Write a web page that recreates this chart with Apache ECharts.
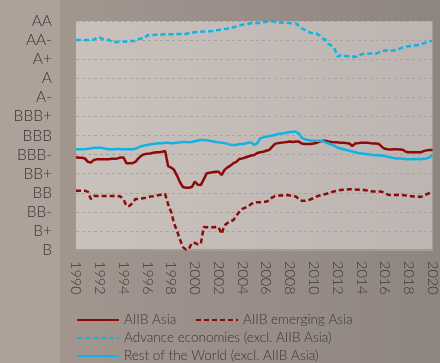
<!DOCTYPE html>
<html>
<head>
<meta charset="utf-8">
<script src="https://cdn.jsdelivr.net/npm/echarts@6/dist/echarts.min.js"></script>
<style>
  html, body { margin: 0; padding: 0; }
  #chart { width: 440px; height: 363px; }
</style>
</head>
<body>
<div id="chart"></div>
<script>
// Sovereign credit rating scale, lowest (index 0) to highest
const ratings = ['B', 'B+', 'BB-', 'BB', 'BB+', 'BBB-', 'BBB', 'BBB+', 'A-', 'A', 'A+', 'AA-', 'AA'];

// Quarterly observations, 1990 Q1 through 2020 Q1
const startYear = 1990;
const stepYears = 0.25;

// Average rating (notch index) per group
const aiibAsia = [
  4.86, 4.83, 4.83, 4.80, 4.62, 4.58, 4.72, 4.75, 4.75, 4.75, 4.75, 4.76,
  4.78, 4.78, 4.80, 4.85, 4.85, 4.54, 4.54, 4.55, 4.62, 4.80, 4.95, 5.02,
  5.05, 5.06, 5.10, 5.12, 5.12, 5.15, 5.19, 4.40, 4.32, 4.20, 3.90, 3.55,
  3.30, 3.26, 3.26, 3.30, 3.58, 3.42, 3.40, 3.70, 4.02, 4.05, 4.08, 4.10,
  4.10, 3.93, 4.20, 4.33, 4.42, 4.55, 4.62, 4.77, 4.80, 4.85, 4.90, 4.95,
  4.98, 5.08, 5.12, 5.15, 5.20, 5.24, 5.40, 5.56, 5.60, 5.62, 5.64, 5.66,
  5.68, 5.66, 5.68, 5.68, 5.58, 5.55, 5.56, 5.56, 5.58, 5.62, 5.68, 5.72,
  5.73, 5.68, 5.66, 5.65, 5.64, 5.62, 5.62, 5.60, 5.58, 5.45, 5.58, 5.60,
  5.62, 5.62, 5.62, 5.60, 5.58, 5.58, 5.55, 5.40, 5.30, 5.28, 5.27, 5.28,
  5.28, 5.27, 5.25, 5.15, 5.12, 5.12, 5.12, 5.12, 5.12, 5.18, 5.22, 5.24,
  5.24
];

const aiibEmergingAsia = [
  3.11, 3.11, 3.11, 3.11, 3.05, 2.67, 2.83, 2.83, 2.83, 2.83, 2.83, 2.83,
  2.83, 2.83, 2.83, 2.80, 2.65, 2.31, 2.31, 2.45, 2.67, 2.68, 2.70, 2.72,
  2.76, 2.80, 2.82, 2.85, 2.88, 2.90, 2.93, 2.40, 2.00, 1.40, 1.00, 0.55,
  0.15, 0.02, 0.05, 0.37, 0.37, 0.30, 0.32, 1.20, 1.19, 1.19, 1.19, 1.20,
  1.19, 0.84, 1.30, 1.42, 1.50, 1.57, 1.80, 2.00, 2.15, 2.22, 2.28, 2.42,
  2.46, 2.50, 2.50, 2.52, 2.53, 2.60, 2.75, 2.83, 2.85, 2.86, 2.86, 2.88,
  2.86, 2.86, 2.80, 2.68, 2.58, 2.58, 2.60, 2.66, 2.72, 2.80, 2.86, 2.90,
  2.93, 2.98, 3.03, 3.08, 3.11, 3.14, 3.16, 3.17, 3.18, 3.18, 3.17, 3.16,
  3.16, 3.14, 3.12, 3.10, 3.06, 3.06, 3.06, 3.05, 2.98, 2.90, 2.88, 2.88,
  2.88, 2.90, 2.88, 2.86, 2.84, 2.82, 2.80, 2.80, 2.78, 2.85, 2.92, 2.98,
  3.00
];

const advancedEconomies = [
  11.00, 11.00, 11.00, 11.00, 11.00, 11.00, 11.02, 11.13, 11.13, 11.05, 11.05, 11.02,
  10.92, 10.90, 10.90, 10.92, 10.92, 10.93, 10.95, 10.95, 10.95, 11.05, 11.08, 11.10,
  11.25, 11.26, 11.27, 11.28, 11.28, 11.29, 11.30, 11.30, 11.30, 11.31, 11.32, 11.32,
  11.32, 11.32, 11.36, 11.40, 11.41, 11.42, 11.44, 11.45, 11.46, 11.46, 11.48, 11.52,
  11.53, 11.55, 11.58, 11.60, 11.64, 11.67, 11.72, 11.78, 11.80, 11.84, 11.86, 11.88,
  11.88, 11.89, 11.90, 11.92, 11.96, 12.00, 11.98, 11.94, 11.92, 11.92, 11.91, 11.90,
  11.89, 11.88, 11.88, 11.75, 11.62, 11.53, 11.45, 11.38, 11.36, 11.34, 11.24, 11.10,
  11.00, 10.80, 10.70, 10.58, 10.13, 10.20, 10.18, 10.16, 10.15, 10.14, 10.13, 10.13,
  10.25, 10.28, 10.30, 10.30, 10.30, 10.30, 10.36, 10.42, 10.45, 10.45, 10.45, 10.46,
  10.48, 10.55, 10.62, 10.66, 10.68, 10.70, 10.72, 10.74, 10.78, 10.83, 10.88, 10.93,
  10.97
];

const restOfWorld = [
  5.28, 5.28, 5.28, 5.28, 5.30, 5.32, 5.36, 5.36, 5.36, 5.34, 5.30, 5.28,
  5.28, 5.28, 5.30, 5.28, 5.28, 5.28, 5.28, 5.28, 5.30, 5.38, 5.44, 5.48,
  5.50, 5.54, 5.56, 5.58, 5.59, 5.60, 5.62, 5.62, 5.60, 5.60, 5.62, 5.64,
  5.66, 5.66, 5.64, 5.66, 5.70, 5.74, 5.76, 5.77, 5.75, 5.72, 5.70, 5.66,
  5.64, 5.62, 5.60, 5.56, 5.52, 5.50, 5.52, 5.55, 5.56, 5.58, 5.62, 5.64,
  5.50, 5.60, 5.85, 5.90, 5.94, 5.97, 6.00, 6.03, 6.08, 6.10, 6.12, 6.15,
  6.18, 6.20, 6.20, 6.10, 5.88, 5.80, 5.76, 5.74, 5.73, 5.72, 5.73, 5.71,
  5.64, 5.58, 5.52, 5.46, 5.36, 5.32, 5.28, 5.24, 5.20, 5.16, 5.12, 5.08,
  5.06, 5.04, 5.02, 5.00, 4.98, 4.97, 4.96, 4.94, 4.92, 4.88, 4.85, 4.82,
  4.80, 4.79, 4.78, 4.77, 4.76, 4.76, 4.77, 4.77, 4.76, 4.78, 4.80, 4.86,
  4.98
];

const seriesNames = [
  'AIIB Asia',
  'AIIB emerging Asia',
  'Advance economies (excl. AIIB Asia)',
  'Rest of the World (excl. AIIB Asia)'
];

const RED = '#8c0a0a';
const CYAN = '#12b2e4';
const FONT = 'Lato';
const TEXT = '#3a3636';

function pairs(values) {
  return values.map((v, i) => [startYear + i * stepYears, v]);
}

function lineSeries(name, values, color, dashed) {
  return {
    name: name,
    type: 'line',
    data: pairs(values),
    showSymbol: false,
    symbol: 'none',
    animation: false,
    lineStyle: { color: color, width: 2.5, type: dashed ? [5, 3] : 'solid' },
    itemStyle: { color: color }
  };
}

// One legend block per entry so each sits at its own spot
function legendAt(name, left, top) {
  return {
    data: [name],
    left: left,
    top: top,
    orient: 'horizontal',
    itemWidth: 42,
    itemHeight: 14,
    itemGap: 0,
    padding: 0,
    selectedMode: false,
    itemStyle: { opacity: 0 },
    textStyle: { fontFamily: FONT, fontWeight: 300, fontSize: 13.5, color: TEXT }
  };
}

const chart = echarts.init(document.getElementById('chart'), null, { renderer: 'canvas' });

chart.setOption({
  animation: false,
  backgroundColor: '#aea19a',
  graphic: [
    {
      type: 'rect',
      silent: true,
      z: -10,
      shape: { x: 60, y: 0, width: 380, height: 363 },
      style: {
        fill: new echarts.graphic.LinearGradient(0, 0, 1, 0, [
          { offset: 0, color: '#a2968f' },
          { offset: 1, color: '#8f8580' }
        ])
      }
    }
  ],
  grid: {
    left: 76,
    right: 4,
    top: 21,
    bottom: 113,
    show: true,
    borderWidth: 0,
    backgroundColor: new echarts.graphic.LinearGradient(0, 0, 1, 0, [
      { offset: 0, color: '#c9c1bc' },
      { offset: 1, color: '#bcb5b1' }
    ])
  },
  legend: [
    legendAt(seriesNames[0], 76, 313),
    legendAt(seriesNames[1], 195, 313),
    legendAt(seriesNames[2], 76, 331),
    legendAt(seriesNames[3], 76, 349)
  ],
  xAxis: {
    type: 'value',
    min: 1990,
    max: 2020,
    interval: 2,
    axisLine: { show: true, lineStyle: { color: '#a29c98', width: 2 } },
    axisTick: { show: false },
    splitLine: { show: false },
    axisLabel: {
      rotate: -90,
      margin: 11,
      fontFamily: FONT,
      fontWeight: 300,
      fontSize: 14.5,
      color: TEXT,
      showMinLabel: true,
      showMaxLabel: true,
      formatter: v => String(v)
    }
  },
  yAxis: {
    type: 'value',
    min: 0,
    max: 12,
    interval: 1,
    axisLine: { show: false },
    axisTick: { show: false },
    splitLine: { show: true, lineStyle: { color: '#a9a4a0', width: 1, type: [3, 3] } },
    axisLabel: {
      margin: 24,
      fontFamily: FONT,
      fontWeight: 300,
      fontSize: 15.5,
      color: TEXT,
      formatter: v => ratings[Math.round(v)] || ''
    }
  },
  series: [
    lineSeries(seriesNames[0], aiibAsia, RED, false),
    lineSeries(seriesNames[1], aiibEmergingAsia, RED, true),
    lineSeries(seriesNames[2], advancedEconomies, CYAN, true),
    lineSeries(seriesNames[3], restOfWorld, CYAN, false)
  ]
});
</script>
</body>
</html>
